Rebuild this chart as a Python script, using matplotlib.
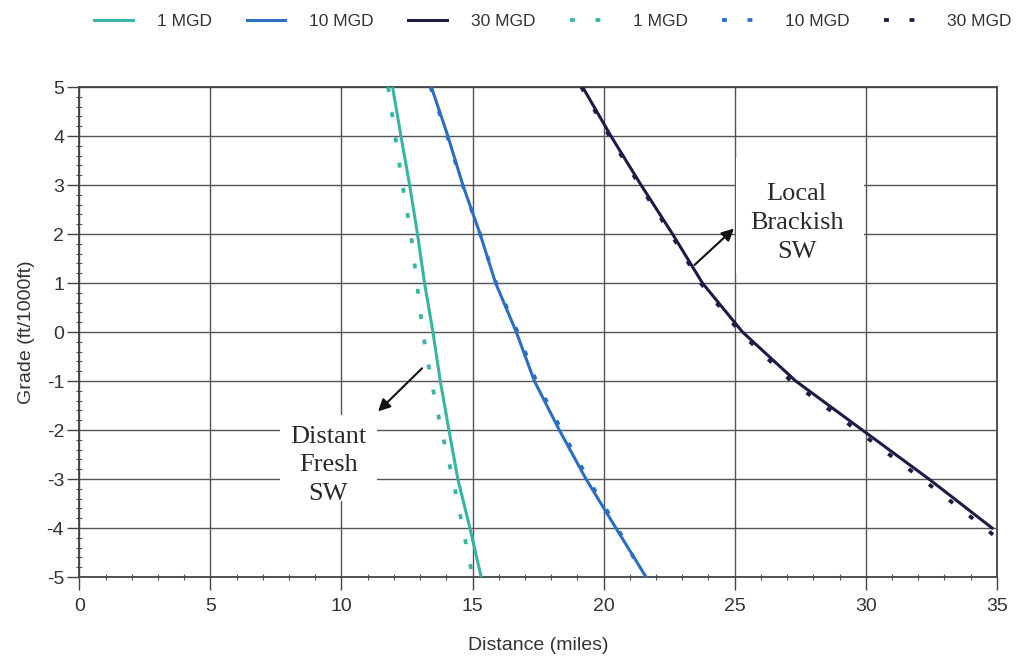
import matplotlib.pyplot as plt
import matplotlib.patches as patches
from matplotlib.ticker import MultipleLocator

plt.rcParams['font.family'] = ['Liberation Sans', 'DejaVu Sans']
plt.rcParams['axes.unicode_minus'] = False

# grade (ft/1000ft) vs distance (miles)
grade = [5, 4, 3, 2, 1, 0, -1, -2, -3, -4, -5]
fresh_1_x = [11.95, 12.27, 12.60, 12.90, 13.17, 13.49, 13.77, 14.10, 14.44, 14.90, 15.33]
mgd10_x = [13.43, 14.06, 14.63, 15.29, 15.88, 16.67, 17.36, 18.31, 19.33, 20.47, 21.62]
mgd30_x = [19.20, 20.28, 21.43, 22.63, 23.77, 25.30, 27.33, 29.87, 32.41, 34.82]
mgd30_y = [5, 4, 3, 2, 1, 0, -1, -2, -3, -4]

dot_1_x = [11.78, 12.05, 12.33, 12.65, 12.88, 13.10, 13.43, 13.81, 14.25, 14.63, 15.01]
dot_10_x = [13.40, 14.03, 14.62, 15.29, 15.90, 16.72, 17.43, 18.39, 19.41, 20.53, 21.55]
dot_30_x = [19.15, 20.22, 21.37, 22.57, 23.70, 25.20, 27.15, 29.65, 32.15, 34.55, 35.00]
dot_30_y = [5, 4, 3, 2, 1, 0, -1, -2, -3, -4, -4.2]

labels = ['1 MGD', '10 MGD', '30 MGD', '1 MGD', '10 MGD', '30 MGD']

c1 = '#35b5a2'
c10 = '#2b6ec2'
c30 = '#1c1d45'
dots = (0, (1.3, 5.5))

fig = plt.figure(figsize=(10.18, 6.57), dpi=100)
ax = fig.add_axes([0.0779, 0.1217, 0.9013, 0.7458])

h = []
h += ax.plot(fresh_1_x, grade, color=c1, lw=2.2, zorder=3)
h += ax.plot(mgd10_x, grade, color=c10, lw=2.2, zorder=3)
h += ax.plot(mgd30_x, mgd30_y, color=c30, lw=2.2, zorder=3)
h += ax.plot(dot_1_x, grade, color=c1, lw=2.7, ls=dots, dash_capstyle='butt', zorder=3)
h += ax.plot(dot_10_x, grade, color=c10, lw=2.7, ls=dots, dash_capstyle='butt', zorder=3)
h += ax.plot(dot_30_x, dot_30_y, color=c30, lw=2.7, ls=dots, dash_capstyle='butt', zorder=3)

ax.set_xlim(0, 35)
ax.set_ylim(-5, 5)
ax.xaxis.set_major_locator(MultipleLocator(5))
ax.xaxis.set_minor_locator(MultipleLocator(1))
ax.yaxis.set_major_locator(MultipleLocator(1))
ax.yaxis.set_minor_locator(MultipleLocator(0.2))
ax.grid(True, which='major', color='#555555', lw=1.0)
ax.set_axisbelow(True)
ax.tick_params(which='major', direction='out', length=9, width=1, colors='#444444',
               labelsize=14, labelcolor='#333333')
ax.tick_params(axis='x', which='major', pad=6)
ax.tick_params(axis='y', which='major', pad=2)
ax.tick_params(which='minor', direction='inout', length=4, width=0.8, colors='#555555')
for s in ax.spines.values():
    s.set_color('#444444')
    s.set_linewidth(1.3)

ax.set_xlabel('Distance (miles)', fontsize=14, color='#333333', labelpad=16)
ax.set_ylabel('Grade (ft/1000ft)', fontsize=14, color='#333333', labelpad=8)

# white patches behind the two labels (gridlines are cut there)
ax.add_patch(patches.Rectangle((25.06, 1.2), 4.88, 2.35, fc='white', ec='none', zorder=1))
ax.add_patch(patches.Rectangle((7.65, -3.45), 3.69, 1.75, fc='white', ec='none', zorder=1))

ax.text(27.36, 2.22, 'Local\nBrackish\nSW', family='Liberation Serif', fontsize=19,
        color='#2a2a2a', ha='center', va='center', linespacing=1.4, zorder=4)
ax.text(9.5, -2.72, 'Distant\nFresh\nSW', family='Liberation Serif', fontsize=19,
        color='#2a2a2a', ha='center', va='center', linespacing=1.4, zorder=4)
ax.annotate('', xy=(25.05, 2.15), xytext=(23.39, 1.33),
            arrowprops=dict(arrowstyle='-|>', color='#111111', lw=1.5, mutation_scale=18), zorder=5)
ax.annotate('', xy=(11.32, -1.66), xytext=(13.15, -0.70),
            arrowprops=dict(arrowstyle='-|>', color='#111111', lw=1.5, mutation_scale=18), zorder=5)

fig.legend(h, labels, loc='upper center', bbox_to_anchor=(0.543, 1.003), ncol=6,
           frameon=False, fontsize=12.5, handlelength=2.2, columnspacing=2.0,
           handletextpad=1.4, labelcolor='#333333')

fig.savefig('out.png', dpi=100)
